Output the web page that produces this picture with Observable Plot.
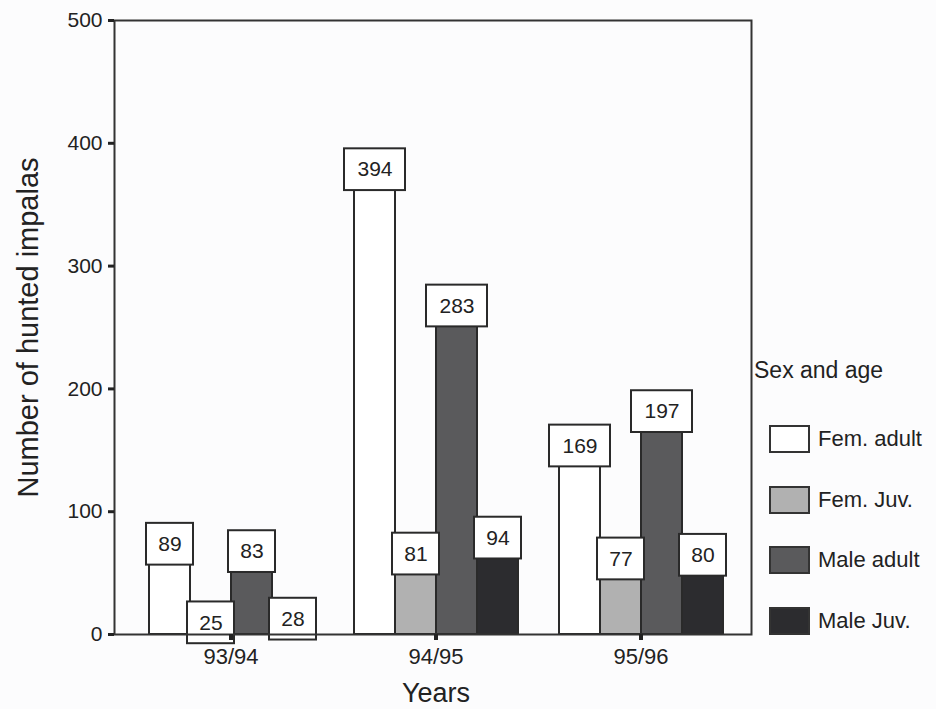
<!DOCTYPE html>
<html>
<head>
<meta charset="utf-8">
<script src="https://cdn.jsdelivr.net/npm/d3@7"></script>
<script src="https://cdn.jsdelivr.net/npm/@observablehq/plot@0.6"></script>
<style>
  html, body { margin: 0; padding: 0; background: #fcfcfd; }
  body { width: 936px; height: 709px; position: relative; overflow: hidden; font-family: "Liberation Sans", Arial, sans-serif; }
  #chart { position: absolute; left: 0; top: 0; }
  #chart svg { background: #fcfcfd; }
  g[aria-label="y-axis label"] text { font-size: 29px; }
  g[aria-label="fx-axis label"] text { font-size: 27px; }
  #legend { position: absolute; left: 754px; top: 356px; color: #222; }
  #legend .title { font-size: 23px; line-height: 28px; margin-bottom: 41px; }
  #legend .item { display: flex; align-items: center; height: 28px; margin-bottom: 32.5px; margin-left: 15px; font-size: 22px; }
  #legend .sw { box-sizing: border-box; width: 41px; height: 28px; border: 2px solid #333; margin-right: 8px; }
</style>
</head>
<body>
<div id="chart"></div>
<div id="legend"></div>
<script>
const years = ["93/94", "94/95", "95/96"];
const categories = ["Fem. adult", "Fem. Juv.", "Male adult", "Male Juv."];
const femAdult = [89, 394, 169];
const femJuv = [25, 81, 77];
const maleAdult = [83, 283, 197];
const maleJuv = [28, 94, 80];
const colors = ["#ffffff", "#b1b1b1", "#5a5a5c", "#2c2c2f"];
const yTicks = [0, 100, 200, 300, 400, 500];

const series = [femAdult, femJuv, maleAdult, maleJuv];
const rows = [];
years.forEach((yr, i) => {
  categories.forEach((cat, j) => {
    rows.push({year: yr, cat, value: series[j][i]});
  });
});

const boxMark = (data, inset) => Plot.barY(data, {
  fx: "year", x: "cat",
  y1: d => d.value - 32.5, y2: d => d.value + 1.5,
  fill: "#ffffff", stroke: "#2a2a2a", strokeWidth: 2,
  insetLeft: inset, insetRight: inset
});

const chart = Plot.plot({
  width: 753 + 28,
  height: 709,
  marginTop: 20,
  marginBottom: 75,
  marginLeft: 147,
  marginRight: 56,
  style: {fontFamily: "Liberation Sans, Arial, sans-serif", color: "#222", background: "#fcfcfd"},
  fx: {domain: years, paddingInner: 0.194, paddingOuter: 0, label: "Years"},
  x: {domain: categories, padding: 0, axis: null},
  y: {domain: [0, 500], label: "Number of hunted impalas"},
  color: {domain: categories, range: colors},
  marks: [
    Plot.barY(rows, {fx: "year", x: "cat", y: "value", fill: "cat", stroke: "#2a2a2a", strokeWidth: 2}),
    boxMark(rows.filter(d => d.value < 100), -3),
    boxMark(rows.filter(d => d.value >= 100), -10),
    Plot.text(rows, {fx: "year", x: "cat", y: d => d.value - 15.5, text: d => String(d.value),
      fontSize: 21, fill: "#222", lineAnchor: "middle"}),
    Plot.frame({facet: "super", stroke: "#333", strokeWidth: 2, insetLeft: -34, insetRight: -28}),
    Plot.axisY({ticks: yTicks, tickSize: 6, strokeWidth: 3, fontSize: 21, tickPadding: 6, dx: -34,
      label: "Number of hunted impalas", labelAnchor: "center", labelArrow: "none", labelOffset: 131}),
    Plot.axisFx({anchor: "bottom", tickSize: 6, strokeWidth: 4, fontSize: 22, tickPadding: 8,
      label: "Years", labelAnchor: "center", labelArrow: "none", labelOffset: 67})
  ]
});
document.getElementById("chart").appendChild(chart);

const legend = document.getElementById("legend");
const t = document.createElement("div");
t.className = "title";
t.textContent = "Sex and age";
legend.appendChild(t);
categories.forEach((c, i) => {
  const it = document.createElement("div");
  it.className = "item";
  const sw = document.createElement("div");
  sw.className = "sw";
  sw.style.background = colors[i];
  const lb = document.createElement("span");
  lb.textContent = c;
  it.appendChild(sw);
  it.appendChild(lb);
  legend.appendChild(it);
});
</script>
</body>
</html>
